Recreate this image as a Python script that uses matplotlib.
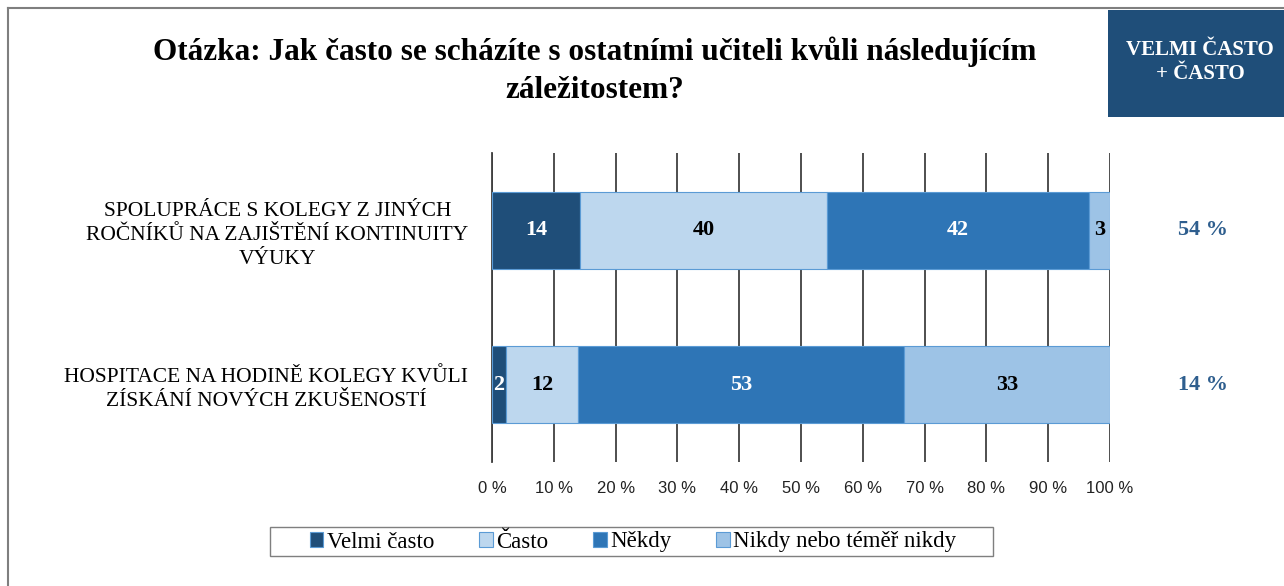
import matplotlib.pyplot as plt
import matplotlib.patches as patches
from matplotlib.lines import Line2D

categories = ["SPOLUPRÁCE S KOLEGY Z JINÝCH\nROČNÍKŮ NA ZAJIŠTĚNÍ KONTINUITY\nVÝUKY",
              "HOSPITACE NA HODINĚ KOLEGY KVŮLI\nZÍSKÁNÍ NOVÝCH ZKUŠENOSTÍ"]
series = ["Velmi často", "Často", "Někdy", "Nikdy nebo téměř nikdy"]
velmi_casto = [14.2, 2.3]
casto = [40.0, 11.6]
nekdy = [42.4, 52.8]
nikdy = [3.4, 33.3]
ticks = [0, 10, 20, 30, 40, 50, 60, 70, 80, 90, 100]

colors = ["#1F4E79", "#BDD7EE", "#2E75B6", "#9DC3E6"]
text_colors = ["white", "black", "white", "black"]
serif = "Liberation Serif"

fig = plt.figure(figsize=(12.84, 5.86), dpi=100)
W, H = 1284, 586

def fx(px):
    return px / W

def fy(py):
    return 1 - py / H

# outer frame (left and top)
fig.add_artist(Line2D([fx(8), fx(8)], [fy(8), 0], color="#7f7f7f", lw=1.5))
fig.add_artist(Line2D([fx(8), 1], [fy(8), fy(8)], color="#7f7f7f", lw=1.5))

# dark box top right
fig.add_artist(patches.Rectangle((fx(1108), fy(117)), fx(1284 - 1108), fy(10) - fy(117),
                                 facecolor="#1F4E79", edgecolor="none", transform=fig.transFigure))
fig.text(fx(1200), fy(62), "VELMI ČASTO\n+ ČASTO", ha="center", va="center", color="white",
         fontsize=15, fontweight="bold", family=serif, linespacing=1.3)

fig.text(fx(595), fy(71), "Otázka: Jak často se scházíte s ostatními učiteli kvůli následujícím\nzáležitostem?",
         ha="center", va="center", fontsize=22.5, fontweight="bold", family=serif, linespacing=1.4)

ax = fig.add_axes([fx(492), fy(462), fx(1110) - fx(492), fy(153) - fy(462)])

data = [velmi_casto, casto, nekdy, nikdy]
y = [0, 1]
left = [0, 0]
handles = []
for vals, name, c, tc in zip(data, series, colors, text_colors):
    bars = ax.barh(y, vals, left=left, height=0.5, color=c, edgecolor="#5B9BD5",
                   linewidth=0.8, label=name, zorder=3)
    handles.append(bars)
    for b, v, l in zip(bars, vals, left):
        ax.text(l + v / 2, b.get_y() + b.get_height() / 2, f"{v:.0f}", ha="center", va="center",
                color=tc, fontsize=16, fontweight="bold", family=serif, zorder=4)
    left = [l + v for l, v in zip(left, vals)]

# right summary labels
for i in y:
    total = velmi_casto[i] + casto[i]
    ax.text(115.0, i, f"{total:.0f} %", ha="center", va="center", color="#2E5E8E",
            fontsize=16, fontweight="bold", family=serif, clip_on=False)

ax.set_xlim(0, 100)
ax.set_ylim(1.5, -0.5)
ax.set_xticks(ticks)
ax.set_xticklabels([f"{t} %" for t in ticks], family="Liberation Sans", fontsize=12, color="#222222")
ax.set_yticks(y)
ax.set_yticklabels(categories, family=serif, fontsize=15.5, multialignment="center")
for lbl in ax.get_yticklabels():
    lbl.set_linespacing(1.35)
ax.tick_params(axis="x", length=0, pad=14)
ax.tick_params(axis="y", length=0, pad=17)
ax.xaxis.grid(True, color="#404040", lw=1.3, zorder=0)
for s in ["top", "right", "bottom"]:
    ax.spines[s].set_visible(False)
ax.spines["left"].set_color("#404040")
ax.spines["left"].set_linewidth(1.3)

# legend box drawn by hand, legend itself without frame
fig.add_artist(patches.Rectangle((fx(270), fy(556)), fx(993 - 270), fy(527) - fy(556),
                                 facecolor="white", edgecolor="#7f7f7f", lw=1.0,
                                 transform=fig.transFigure))
leg = fig.legend(handles, series, loc="center", bbox_to_anchor=(fx(633), fy(542)), ncol=4,
                 frameon=False, prop={"family": serif, "size": 16.5},
                 handlelength=0.6, handleheight=0.6, handletextpad=0.15, columnspacing=1.95,
                 borderpad=0.2)

fig.savefig("out.png", dpi=100)
